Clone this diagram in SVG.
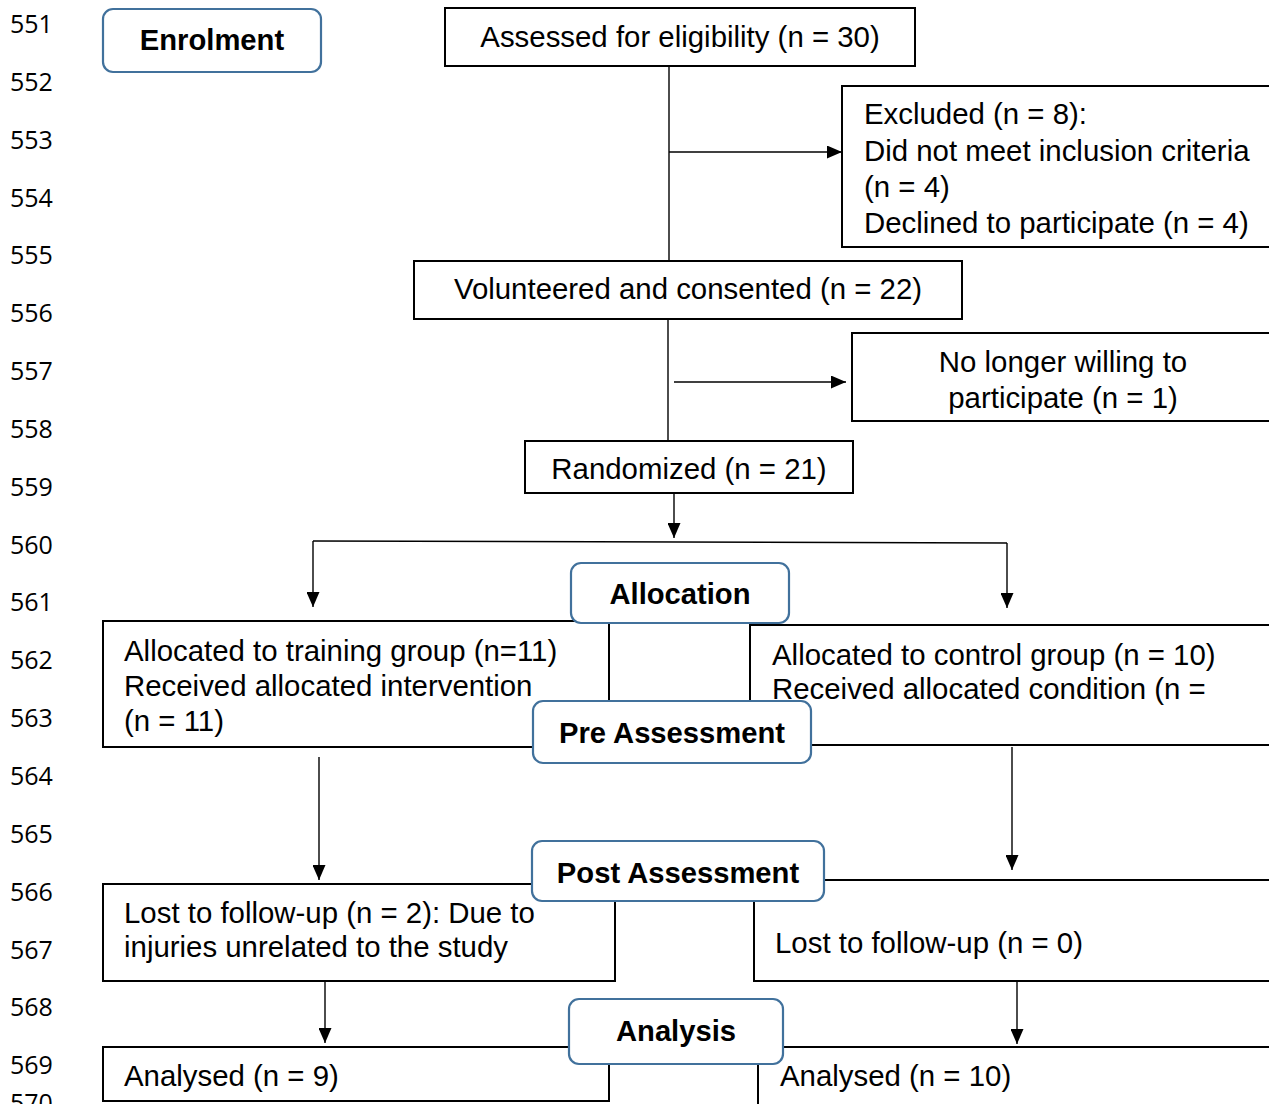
<svg xmlns="http://www.w3.org/2000/svg" width="1269" height="1104" viewBox="0 0 1269 1104">
<defs>
<style>
.ln{font-family:"Open Sans","Noto Sans",sans-serif;font-size:25px;fill:#000}
.t{font-family:"Liberation Sans",Arial,sans-serif;font-size:29.4px;fill:#000}
.c{text-anchor:middle}
.b{font-family:"Liberation Sans",Arial,sans-serif;font-size:29.2px;font-weight:bold;fill:#000;text-anchor:middle}
.box{fill:#fff;stroke:#000;stroke-width:2}
.stage{fill:#fff;stroke:#41719C;stroke-width:2.2}
.con line{stroke:#000;stroke-width:1.4;fill:none}
</style>
<marker id="ah" markerWidth="15" markerHeight="13" refX="15" refY="6.5" orient="auto" markerUnits="userSpaceOnUse"><path d="M0,0 L15,6.5 L0,13 z" fill="#000"/></marker>
</defs>
<rect width="1269" height="1104" fill="#fff"/>
<g id="line-numbers">
<text class="ln" x="10" y="33">551</text>
<text class="ln" x="10" y="91">552</text>
<text class="ln" x="10" y="149">553</text>
<text class="ln" x="10" y="207">554</text>
<text class="ln" x="10" y="264">555</text>
<text class="ln" x="10" y="322">556</text>
<text class="ln" x="10" y="380">557</text>
<text class="ln" x="10" y="438">558</text>
<text class="ln" x="10" y="496">559</text>
<text class="ln" x="10" y="554">560</text>
<text class="ln" x="10" y="611">561</text>
<text class="ln" x="10" y="669">562</text>
<text class="ln" x="10" y="727">563</text>
<text class="ln" x="10" y="785">564</text>
<text class="ln" x="10" y="843">565</text>
<text class="ln" x="10" y="901">566</text>
<text class="ln" x="10" y="959">567</text>
<text class="ln" x="10" y="1016">568</text>
<text class="ln" x="10" y="1074">569</text>
<text class="ln" x="10" y="1112">570</text>
</g>
<g id="connectors" class="con">
<line x1="669" y1="66" x2="669" y2="261"/>
<line x1="669" y1="152" x2="842" y2="152" marker-end="url(#ah)"/>
<line x1="668" y1="319" x2="668" y2="441"/>
<line x1="674" y1="382" x2="846" y2="382" marker-end="url(#ah)"/>
<line x1="674" y1="493" x2="674" y2="538" marker-end="url(#ah)"/>
<line x1="313" y1="541" x2="1007" y2="543"/>
<line x1="313" y1="541" x2="313" y2="607" marker-end="url(#ah)"/>
<line x1="1007" y1="543" x2="1007" y2="608" marker-end="url(#ah)"/>
<line x1="319" y1="757" x2="319" y2="880" marker-end="url(#ah)"/>
<line x1="1012" y1="747" x2="1012" y2="870" marker-end="url(#ah)"/>
<line x1="325" y1="981" x2="325" y2="1043" marker-end="url(#ah)"/>
<line x1="1017" y1="981" x2="1017" y2="1044" marker-end="url(#ah)"/>
</g>
<g id="assessed">
<rect class="box" x="445" y="8" width="470" height="58"/>
<text class="t c" x="680" y="47">Assessed for eligibility (n = 30)</text>
</g>
<g id="excluded">
<rect class="box" x="842" y="86" width="440" height="161"/>
<text class="t" x="864" y="124">Excluded (n = 8):</text>
<text class="t" x="864" y="161">Did not meet inclusion criteria</text>
<text class="t" x="864" y="197">(n = 4)</text>
<text class="t" x="864" y="233">Declined to participate (n = 4)</text>
</g>
<g id="volunteered">
<rect class="box" x="414" y="261" width="548" height="58"/>
<text class="t c" x="688" y="299">Volunteered and consented (n = 22)</text>
</g>
<g id="no-longer">
<rect class="box" x="852" y="333" width="430" height="88"/>
<text class="t c" x="1063" y="372">No longer willing to</text>
<text class="t c" x="1063" y="408">participate (n = 1)</text>
</g>
<g id="randomized">
<rect class="box" x="525" y="441" width="328" height="52"/>
<text class="t c" x="689" y="479">Randomized (n = 21)</text>
</g>
<g id="training">
<rect class="box" x="103" y="621" width="506" height="126"/>
<text class="t" x="124" y="661">Allocated to training group (n=11)</text>
<text class="t" x="124" y="696">Received allocated intervention</text>
<text class="t" x="124" y="731">(n = 11)</text>
</g>
<g id="control">
<rect class="box" x="750" y="625" width="530" height="120"/>
<text class="t" x="772" y="665">Allocated to control group (n = 10)</text>
<text class="t" x="772" y="699">Received allocated condition (n =</text>
</g>
<g id="lost-training">
<rect class="box" x="103" y="884" width="512" height="97"/>
<text class="t" x="124" y="923">Lost to follow-up (n = 2): Due to</text>
<text class="t" x="124" y="957">injuries unrelated to the study</text>
</g>
<g id="lost-control">
<rect class="box" x="754" y="880" width="526" height="101"/>
<text class="t" x="775" y="953">Lost to follow-up (n = 0)</text>
</g>
<g id="analysed-training">
<rect class="box" x="103" y="1047" width="506" height="54"/>
<text class="t" x="124" y="1086">Analysed (n = 9)</text>
</g>
<g id="analysed-control">
<rect class="box" x="758" y="1047" width="522" height="70"/>
<text class="t" x="780" y="1086">Analysed (n = 10)</text>
</g>
<g id="enrolment">
<rect class="stage" x="103" y="9" width="218" height="63" rx="10"/>
<text class="b" x="212" y="50">Enrolment</text>
</g>
<g id="allocation">
<rect class="stage" x="571" y="563" width="218" height="60" rx="10"/>
<text class="b" x="680" y="604">Allocation</text>
</g>
<g id="pre-assessment">
<rect class="stage" x="533" y="701" width="278" height="62" rx="10"/>
<text class="b" x="672" y="743">Pre Assessment</text>
</g>
<g id="post-assessment">
<rect class="stage" x="532" y="841" width="292" height="60" rx="10"/>
<text class="b" x="678" y="883">Post Assessment</text>
</g>
<g id="analysis">
<rect class="stage" x="569" y="999" width="214" height="65" rx="10"/>
<text class="b" x="676" y="1041">Analysis</text>
</g>
</svg>
